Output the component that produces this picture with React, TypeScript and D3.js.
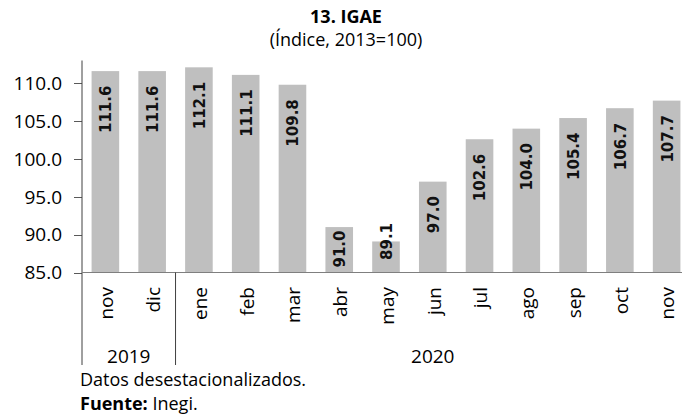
import { useEffect, useRef } from 'react'
import * as d3 from 'd3'

const months = ['nov', 'dic', 'ene', 'feb', 'mar', 'abr', 'may', 'jun', 'jul', 'ago', 'sep', 'oct', 'nov']
const values = [111.6, 111.6, 112.1, 111.1, 109.8, 91.0, 89.1, 97.0, 102.6, 104.0, 105.4, 106.7, 107.7]
const years = [
  { label: '2019', from: 0, to: 2 },
  { label: '2020', from: 2, to: 13 },
]
const yTicks = [85, 90, 95, 100, 105, 110]

const W = 682
const H = 419

function App() {
  const ref = useRef<SVGSVGElement>(null)

  useEffect(() => {
    const svg = d3.select(ref.current)
    svg.selectAll('*').remove()

    const left = 82,
      right = 690,
      axisY = 272.5,
      groupBottom = 365,
      sans = "'Open Sans', sans-serif"

    const x = d3
      .scaleBand<number>()
      .domain(d3.range(values.length))
      .range([left, right])
      .paddingInner(0.41)
      .paddingOuter(0.205)
    const y = d3.scaleLinear().domain([85, 113]).range([axisY, 60.5])
    const step = x.step()

    // title
    svg
      .append('text')
      .attr('x', 346)
      .attr('y', 23)
      .attr('text-anchor', 'middle')
      .attr('font-family', sans)
      .attr('font-weight', 'bold')
      .attr('font-size', 18)
      .text('13. IGAE')
    svg
      .append('text')
      .attr('x', 346)
      .attr('y', 46)
      .attr('text-anchor', 'middle')
      .attr('font-family', sans)
      .attr('font-size', 18)
      .text('(Índice, 2013=100)')

    // bars
    svg
      .append('g')
      .selectAll('rect')
      .data(values)
      .join('rect')
      .attr('x', (_, i) => x(i)!)
      .attr('width', x.bandwidth())
      .attr('y', (d) => y(d))
      .attr('height', (d) => axisY - y(d))
      .attr('fill', '#bfbfbf')

    // data labels
    const labels = svg
      .append('g')
      .selectAll('text')
      .data(values)
      .join('text')
      .attr('font-family', "'DejaVu Sans', sans-serif")
      .attr('font-weight', 'bold')
      .attr('font-size', 15)
      .attr('fill', '#111')
      .attr('text-anchor', 'end')
      .attr('dy', '0.36em')
      .text((d) => d.toFixed(1))

    labels.each(function (d, i) {
      const el = this as SVGTextElement
      const len = el.getComputedTextLength()
      const top = y(d)
      const barH = axisY - top
      let tTop = top + 14.5
      if (tTop + len > axisY - 5) {
        tTop = len > barH ? top - len / 2 : axisY - 5 - len
      }
      const cx = x(i)! + x.bandwidth() / 2 + 0.5
      d3.select(el).attr('transform', `translate(${cx},${tTop}) rotate(-90)`)
    })

    // y axis
    const yAxis = svg.append('g').attr('font-family', sans).attr('font-size', 19)
    yAxis
      .selectAll('text')
      .data(yTicks)
      .join('text')
      .attr('x', 62)
      .attr('y', (d) => y(d))
      .attr('dy', '0.36em')
      .attr('text-anchor', 'end')
      .attr('fill', '#000')
      .text((d) => d.toFixed(1))
    yAxis
      .selectAll('line')
      .data(yTicks)
      .join('line')
      .attr('x1', 74)
      .attr('x2', left)
      .attr('y1', (d) => Math.round(y(d)) + 0.5)
      .attr('y2', (d) => Math.round(y(d)) + 0.5)
      .attr('stroke', '#595959')

    svg
      .append('line')
      .attr('x1', left)
      .attr('x2', left)
      .attr('y1', y(113))
      .attr('y2', groupBottom)
      .attr('stroke', '#404040')
    svg
      .append('line')
      .attr('x1', left)
      .attr('x2', W)
      .attr('y1', axisY)
      .attr('y2', axisY)
      .attr('stroke', '#7f7f7f')

    // month labels
    svg
      .append('g')
      .selectAll('text')
      .data(months)
      .join('text')
      .attr('font-family', sans)
      .attr('font-size', 19)
      .attr('text-anchor', 'end')
      .attr('dy', '0.36em')
      .attr('transform', (_, i) => `translate(${x(i)! + x.bandwidth() / 2 + 1},${axisY + 14.5}) rotate(-90)`)
      .text((d) => d)

    // year groups
    years.forEach((g) => {
      const x0 = left + g.from * step
      const x1 = left + g.to * step
      if (g.from > 0) {
        svg
          .append('line')
          .attr('x1', x0)
          .attr('x2', x0)
          .attr('y1', axisY)
          .attr('y2', groupBottom)
          .attr('stroke', '#404040')
      }
      svg
        .append('text')
        .attr('x', (x0 + x1) / 2)
        .attr('y', 363)
        .attr('text-anchor', 'middle')
        .attr('font-family', sans)
        .attr('font-size', 19)
        .text(g.label)
    })

    // notes
    svg
      .append('text')
      .attr('x', 80)
      .attr('y', 386)
      .attr('font-family', sans)
      .attr('font-size', 18)
      .text('Datos desestacionalizados.')
    const src = svg
      .append('text')
      .attr('x', 80)
      .attr('y', 410)
      .attr('font-family', sans)
      .attr('font-size', 18)
    src.append('tspan').attr('font-weight', 'bold').text('Fuente:')
    src.append('tspan').text(' Inegi.')
  }, [])

  return (
    <svg
      ref={ref}
      width={W}
      height={H}
      style={{ position: 'absolute', left: 0, top: 0, background: '#fff' }}
    />
  )
}

export default App
